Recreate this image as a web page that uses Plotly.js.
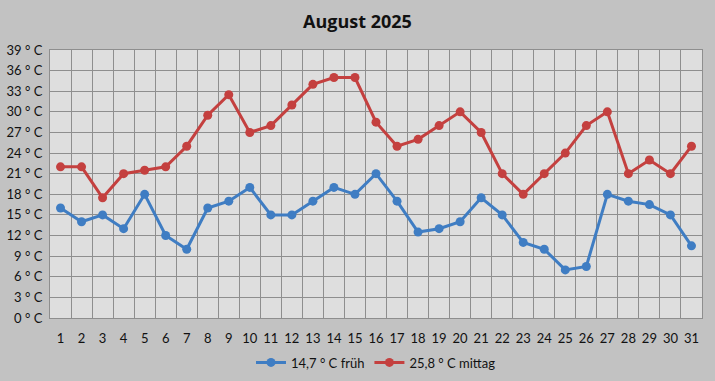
<!DOCTYPE html>
<html>
<head>
<meta charset="utf-8">
<script src="https://cdn.plot.ly/plotly-3.0.1.min.js"></script>
<style>
html,body{margin:0;padding:0;background:#c4c4c4;}
#chart{width:715px;height:381px;}
</style>
</head>
<body>
<div id="chart"></div>
<script>
const days = ["1","2","3","4","5","6","7","8","9","10","11","12","13","14","15","16","17","18","19","20","21","22","23","24","25","26","27","28","29","30","31"];
const frueh = [16,14,15,13,18,12,10,16,17,19,15,15,17,19,18,21,17,12.5,13,14,17.5,15,11,10,7,7.5,18,17,16.5,15,10.5];
const mittag = [22,22,17.5,21,21.5,22,25,29.5,32.5,27,28,31,34,35,35,28.5,25,26,28,30,27,21,18,21,24,28,30,21,23,21,25];
const yTickVals = [0,3,6,9,12,15,18,21,24,27,30,33,36,39];
const yTickText = yTickVals.map(v => v + " \u00b0 C");
const names = ["14,7 \u00b0 C früh", "25,8 \u00b0 C mittag"];

const traces = [
  {x: days, y: frueh, name: names[0], type: "scatter", mode: "lines+markers",
   line: {color: "#3f7dc3", width: 3}, marker: {color: "#3f7dc3", size: 9}},
  {x: days, y: mittag, name: names[1], type: "scatter", mode: "lines+markers",
   line: {color: "#c4403f", width: 3}, marker: {color: "#c4403f", size: 9}}
];

const layout = {
  width: 715, height: 381,
  paper_bgcolor: "#c2c2c2",
  plot_bgcolor: "#dedede",
  margin: {l: 50, r: 13, t: 50, b: 63, autoexpand: false},
  title: {text: "<b>August 2025</b>", x: 0.5, xanchor: "center", y: 0.942, yanchor: "middle",
          font: {family: "Open Sans, Lato, sans-serif", size: 18, color: "#111"}},
  font: {family: "Lato, 'Open Sans', sans-serif", size: 12, color: "#111"},
  xaxis: {type: "category", tickson: "boundaries", range: [-0.5, 30.5], showgrid: true,
          gridcolor: "#8e8e8e", gridwidth: 1,
          ticks: "", showline: true, linecolor: "#8e8e8e", mirror: true, zeroline: false,
          tickangle: 0, automargin: false,
          tickfont: {size: 13}, ticklabelstandoff: 8, fixedrange: true},
  yaxis: {range: [0, 39], tickvals: yTickVals, ticktext: yTickText, showgrid: true,
          gridcolor: "#8e8e8e", gridwidth: 1, zeroline: false, showline: true, linecolor: "#8e8e8e",
          mirror: true, ticks: "", tickfont: {size: 13}, ticklabelstandoff: 4, automargin: false,
          fixedrange: true},
  legend: {orientation: "h", x: 0.5, xanchor: "center", y: -0.11, yanchor: "top",
           font: {size: 13}, bgcolor: "rgba(0,0,0,0)", itemwidth: 30, traceorder: "normal"},
  showlegend: true
};

Plotly.newPlot("chart", traces, layout, {displayModeBar: false, staticPlot: true});
</script>
</body>
</html>
